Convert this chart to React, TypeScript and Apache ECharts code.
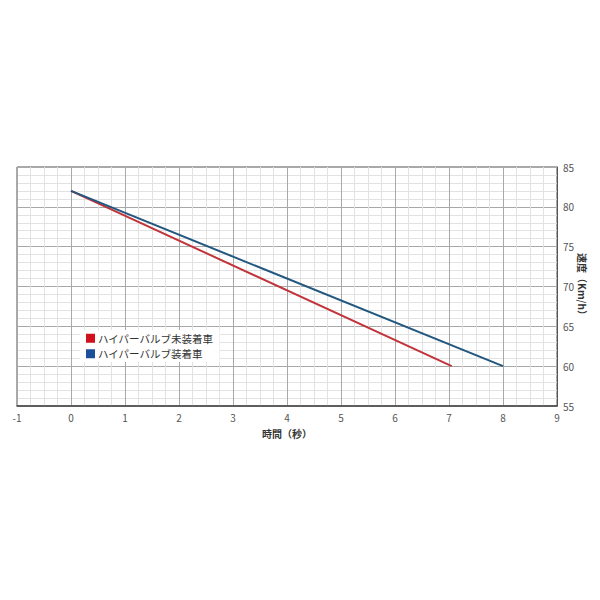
import React, { useEffect, useRef } from "react";
import * as echarts from "echarts";

const seriesNames = ["ハイパーバルブ未装着車", "ハイパーバルブ装着車"];
const redLine: [number, number][] = [[0, 82], [7.05, 60]];
const blueLine: [number, number][] = [[0, 82], [8, 60]];
const lineColors = ["#c0343a", "#22577f"];
const legendColors = ["#d0101c", "#1b4f98"];
const xAxisName = "時間（秒）";
const yAxisName = "速度（Km/h）";

export default function App() {
  const ref = useRef<HTMLDivElement>(null);
  useEffect(() => {
    if (!ref.current) return;
    const chart = echarts.init(ref.current, null, { renderer: "svg" });
    const font = "'Noto Sans CJK JP', 'Noto Sans', sans-serif";
    chart.setOption({
      animation: false,
      backgroundColor: "#ffffff",
      textStyle: { fontFamily: font },
      grid: {
        left: 17,
        right: 43,
        top: 167,
        bottom: 194,
        show: true,
        borderColor: "#555",
        borderWidth: 1,
        backgroundColor: "transparent",
      },
      legend: {
        left: 80,
        top: 330,
        orient: "vertical",
        icon: "rect",
        itemWidth: 9,
        itemHeight: 9,
        itemGap: 5,
        padding: [3, 6, 3, 6],
        backgroundColor: "#ffffff",
        textStyle: { fontSize: 10.5, color: "#333", fontFamily: font, padding: [0, 0, 0, -2] },
        data: [
          { name: seriesNames[0], itemStyle: { color: legendColors[0] } },
          { name: seriesNames[1], itemStyle: { color: legendColors[1] } },
        ],
      },
      xAxis: {
        type: "value",
        min: -1,
        max: 9,
        interval: 1,
        name: xAxisName,
        nameLocation: "middle",
        nameGap: 22,
        nameMoveOverlap: false,
        nameTextStyle: { fontSize: 10, color: "#333", fontWeight: "bold", fontFamily: font },
        axisLine: { show: true, onZero: false, lineStyle: { color: "#444", width: 1.5 } },
        axisTick: { show: false },
        axisLabel: { fontSize: 10, color: "#555", margin: 6 },
        splitLine: { show: true, lineStyle: { color: "#a8a8a8", width: 1 } },
        minorTick: { show: false, splitNumber: 4 },
        minorSplitLine: { show: true, lineStyle: { color: "#e2e2e2", width: 1 } },
      },
      yAxis: {
        type: "value",
        position: "right",
        min: 55,
        max: 85,
        interval: 5,
        name: yAxisName,
        nameLocation: "middle",
        nameRotate: -90,
        nameGap: 21,
        nameMoveOverlap: false,
        nameTextStyle: { fontSize: 10, color: "#333", fontWeight: "bold", fontFamily: font },
        axisLine: { show: true, onZero: false, lineStyle: { color: "#555", width: 1 } },
        axisTick: { show: false },
        axisLabel: { fontSize: 10, color: "#555", margin: 6 },
        splitLine: { show: true, lineStyle: { color: "#a8a8a8", width: 1 } },
        minorTick: { show: false, splitNumber: 5 },
        minorSplitLine: { show: true, lineStyle: { color: "#e2e2e2", width: 1 } },
      },
      series: [
        {
          name: seriesNames[0],
          type: "line",
          data: redLine,
          symbol: "none",
          lineStyle: { color: lineColors[0], width: 2 },
          itemStyle: { color: legendColors[0] },
          z: 3,
        },
        {
          name: seriesNames[1],
          type: "line",
          data: blueLine,
          symbol: "none",
          lineStyle: { color: lineColors[1], width: 2 },
          itemStyle: { color: legendColors[1] },
          z: 4,
        },
      ],
    });
    return () => chart.dispose();
  }, []);
  return (
    <div
      ref={ref}
      style={{ position: "absolute", left: 0, top: 0, width: 600, height: 600 }}
    />
  );
}
